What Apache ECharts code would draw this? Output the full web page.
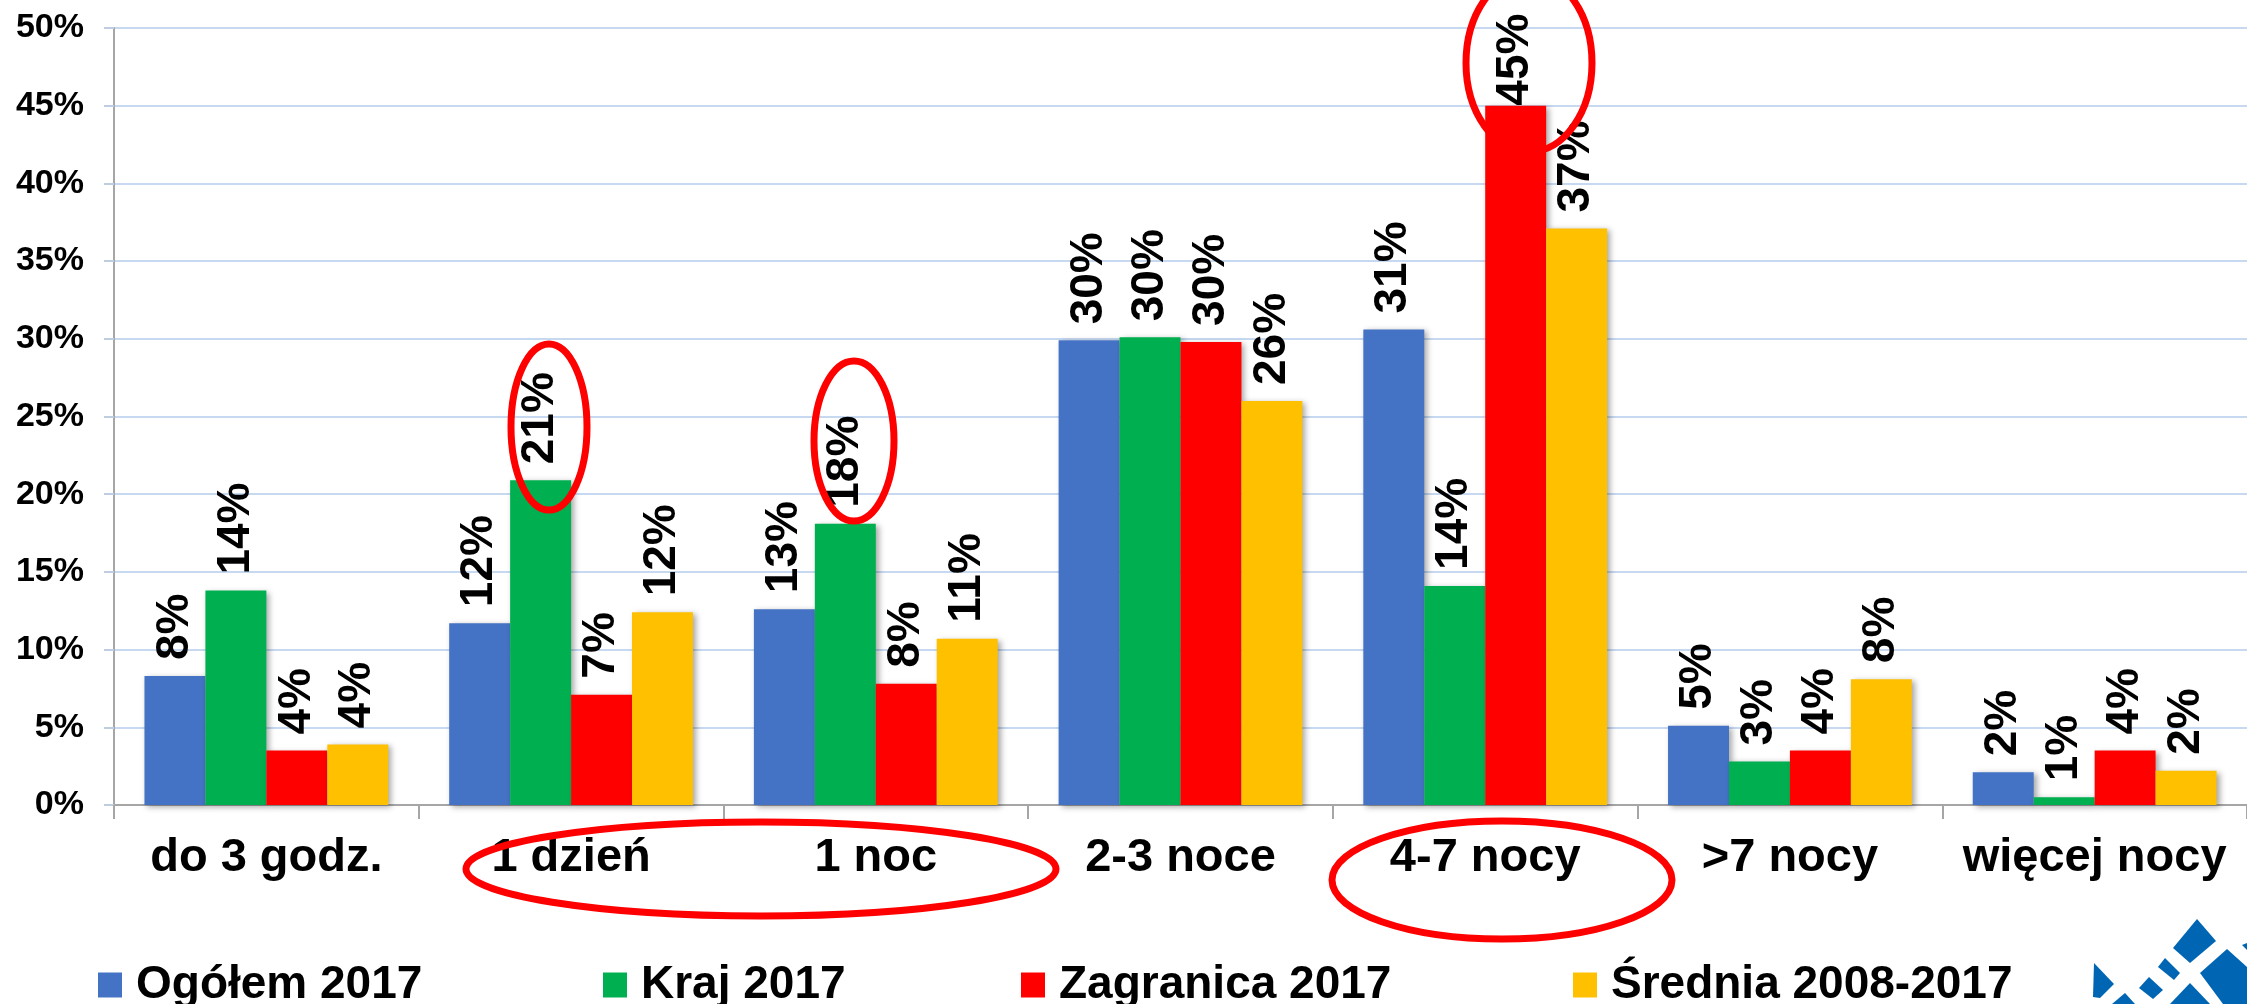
<!DOCTYPE html>
<html>
<head>
<meta charset="utf-8">
<title>Długość pobytu</title>
<script src="https://cdn.jsdelivr.net/npm/echarts@6/dist/echarts.min.js"></script>
<style>
  html, body { margin: 0; padding: 0; background: #ffffff; }
  #main { width: 2247px; height: 1004px; }
</style>
</head>
<body>
<div id="main"></div>
<script>
// kategorie długości pobytu
var categories = ['do 3 godz.', '1 dzień', '1 noc', '2-3 noce', '4-7 nocy', '>7 nocy', 'więcej nocy'];
// serie (w %)
var seriesNames = ['Ogółem 2017', 'Kraj 2017', 'Zagranica 2017', 'Średnia 2008-2017'];
var ogolem2017 = [8.3, 11.7, 12.6, 29.9, 30.6, 5.1, 2.1];
var kraj2017 = [13.8, 20.9, 18.1, 30.1, 14.1, 2.8, 0.5];
var zagranica2017 = [3.5, 7.1, 7.8, 29.8, 45.0, 3.5, 3.5];
var srednia = [3.9, 12.4, 10.7, 26.0, 37.1, 8.1, 2.2];
var colors = ['#4472C4', '#00B050', '#FF0000', '#FFC000'];
var yTicks = { min: 0, max: 50, interval: 5 };

var font = "'Liberation Sans', Arial, sans-serif";
var chart = echarts.init(document.getElementById('main'));

function makeSeries(name, data, color) {
  return {
    name: name,
    type: 'bar',
    // najwyższa etykieta siedzi tuż nad słupkiem (brak miejsca u góry)
    data: data.map(function (v) {
      return v >= 44 ? { value: v, label: { distance: 0 } } : v;
    }),
    barGap: '0%',
    barCategoryGap: '20%',
    itemStyle: {
      color: color,
      shadowColor: 'rgba(0, 0, 0, 0.35)',
      shadowBlur: 6,
      shadowOffsetX: 3,
      shadowOffsetY: 2
    },
    label: {
      show: true,
      position: 'top',
      rotate: 90,
      align: 'left',
      verticalAlign: 'middle',
      distance: 16,
      fontFamily: font,
      fontSize: 46,
      fontWeight: 'bold',
      color: '#000',
      formatter: function (p) { return Math.round(p.value) + '%'; }
    }
  };
}

function makeLegend(name, left) {
  return {
    left: left,
    top: 957,
    icon: 'rect',
    itemWidth: 24,
    itemHeight: 25,
    data: [name],
    textStyle: {
      fontFamily: font,
      fontSize: 46,
      fontWeight: 'bold',
      color: '#000',
      padding: [0, 0, 0, 9]
    }
  };
}

function ring(cx, cy, rx, ry) {
  return {
    type: 'ellipse',
    z: 100,
    shape: { cx: cx, cy: cy, rx: rx, ry: ry },
    style: { fill: 'none', stroke: '#FF0000', lineWidth: 7 }
  };
}

function logoPart(points) {
  return {
    type: 'polygon',
    z: 100,
    shape: { points: points },
    style: { fill: '#0066B3' }
  };
}

var option = {
  backgroundColor: '#ffffff',
  animation: false,
  color: colors,
  grid: { left: 114, right: -18, top: 28, bottom: 199, containLabel: false },
  legend: [
    makeLegend(seriesNames[0], 93),
    makeLegend(seriesNames[1], 598),
    makeLegend(seriesNames[2], 1016),
    makeLegend(seriesNames[3], 1568)
  ],
  xAxis: {
    type: 'category',
    data: categories,
    axisLine: { lineStyle: { color: '#A6A6A6', width: 2 } },
    axisTick: { show: true, length: 14, alignWithLabel: false, lineStyle: { color: '#A6A6A6', width: 2 } },
    axisLabel: {
      interval: 0,
      margin: 30,
      fontFamily: font,
      fontSize: 47,
      fontWeight: 'bold',
      color: '#000'
    }
  },
  yAxis: {
    type: 'value',
    min: yTicks.min,
    max: yTicks.max,
    interval: yTicks.interval,
    axisLine: { show: true, lineStyle: { color: '#A6A6A6', width: 2 } },
    axisTick: { show: true, length: 10, lineStyle: { color: '#BFCDE0', width: 2 } },
    splitLine: { lineStyle: { color: '#C6D9F0', width: 2 } },
    axisLabel: {
      margin: 30,
      fontFamily: font,
      fontSize: 34,
      fontWeight: 'bold',
      color: '#000',
      formatter: '{value}%'
    }
  },
  series: [
    makeSeries(seriesNames[0], ogolem2017, colors[0]),
    makeSeries(seriesNames[1], kraj2017, colors[1]),
    makeSeries(seriesNames[2], zagranica2017, colors[2]),
    makeSeries(seriesNames[3], srednia, colors[3])
  ],
  graphic: [
    // czerwone obwódki
    ring(549, 427, 38, 83),
    ring(854, 441, 40, 80),
    ring(1529, 63, 63, 89),
    ring(761, 869, 295, 47),
    ring(1502, 880, 170, 59),
    // logo w prawym dolnym rogu
    logoPart([[2197, 919], [2216, 941], [2190, 963], [2173, 948]]),
    logoPart([[2165, 958], [2180, 973], [2174, 980], [2158, 967]]),
    logoPart([[2149, 977], [2163, 990], [2153, 999], [2139, 988]]),
    logoPart([[2094, 963], [2114, 984], [2100, 998], [2093, 997]]),
    logoPart([[2125, 993], [2135, 1004], [2112, 1004]]),
    logoPart([[2227, 949], [2247, 967], [2247, 1004], [2223, 1004], [2200, 973]]),
    logoPart([[2190, 983], [2210, 1004], [2170, 1004]]),
    logoPart([[2242, 945], [2247, 943], [2247, 950]])
  ]
};

chart.setOption(option);
</script>
</body>
</html>
